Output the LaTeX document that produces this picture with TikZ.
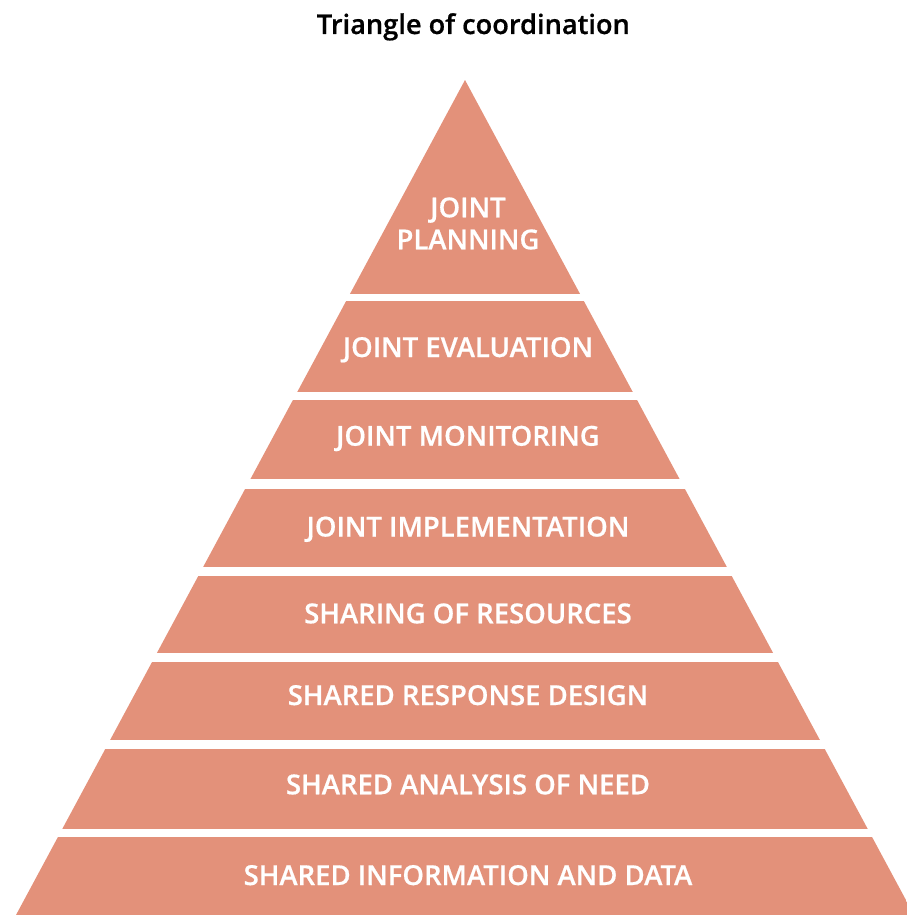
\documentclass[tikz,border=0pt]{standalone}
\usepackage{fontspec}
\setmainfont{Open Sans}
\IfFontExistsTF{Open Sans SemiBold}{%
  \newfontfamily\semifont{Open Sans SemiBold}[FakeBold=0.6]\def\lblsize{27.5}\def\ttlsize{27.2}}{%
  \IfFontExistsTF{Open Sans Semibold}{%
    \newfontfamily\semifont{Open Sans Semibold}[FakeBold=0.6]\def\lblsize{27.5}\def\ttlsize{27.2}}{%
    \newfontfamily\semifont{Open Sans}[FakeBold=1.6]\def\lblsize{28.5}\def\ttlsize{28}}}
\definecolor{salmon}{RGB}{227,145,122}
\tikzset{
  band/.style={fill=salmon},
  lbl/.style={text=white, font=\semifont\fontsize{\lblsize}{32}\selectfont, align=center, inner sep=0pt, anchor=base},
  ttl/.style={text=black, font=\semifont\fontsize{\ttlsize}{30}\selectfont, inner sep=0pt, anchor=base}
}
\begin{document}
\begin{tikzpicture}[x=1pt,y=-1pt]
\useasboundingbox (0,0) rectangle (907,915);
\node[ttl] (title) at (473.3,34) {Triangle of coordination};
\begin{scope}
  \clip (465,80) -- (16,915) -- (914,915) -- cycle;
  \fill[band] (0,80) rectangle (907,293.5);
  \fill[band] (0,301) rectangle (907,392.3);
  \fill[band] (0,400) rectangle (907,479.3);
  \fill[band] (0,488.5) rectangle (907,566.7);
  \fill[band] (0,575.7) rectangle (907,653.3);
  \fill[band] (0,662.3) rectangle (907,740);
  \fill[band] (0,749) rectangle (907,828.7);
  \fill[band] (0,836.5) rectangle (907,915);
\end{scope}
\node[lbl] (l1a) at (468,217.3) {JOINT};
\node[lbl] (l1b) at (468,249.3) {PLANNING};
\node[lbl] (l2) at (468,357) {JOINT EVALUATION};
\node[lbl] (l3) at (468,445.7) {JOINT MONITORING};
\node[lbl] (l4) at (468,536.5) {JOINT IMPLEMENTATION};
\node[lbl] (l5) at (468,623.3) {SHARING OF RESOURCES};
\node[lbl] (l6) at (468,705) {SHARED RESPONSE DESIGN};
\node[lbl] (l7) at (468,794.3) {SHARED ANALYSIS OF NEED};
\node[lbl] (l8) at (468,885) {SHARED INFORMATION AND DATA};
\end{tikzpicture}
\end{document}
